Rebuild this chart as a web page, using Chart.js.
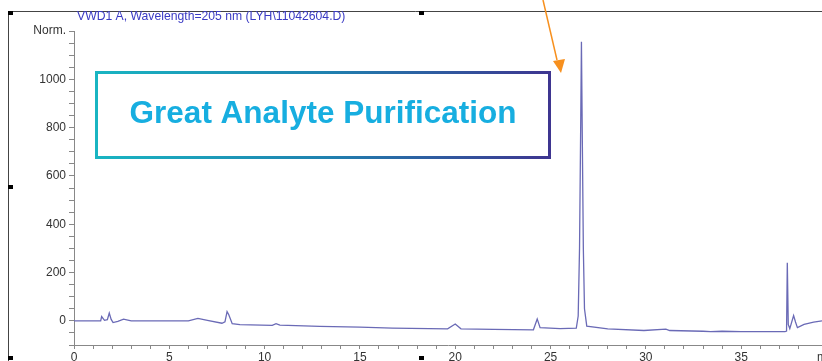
<!DOCTYPE html>
<html>
<head>
<meta charset="utf-8">
<script src="https://cdn.jsdelivr.net/npm/chart.js@4.4.1/dist/chart.umd.min.js"></script>
<style>
  html, body { margin: 0; padding: 0; background: #fff; overflow: hidden; }
  #chart { display: block; }
</style>
</head>
<body>
<canvas id="chart" width="822" height="361"></canvas>
<script>
// retention time (min) and detector signal
const times = [0, 1.4, 1.45, 1.6, 1.75, 1.85, 1.95, 2.05, 2.3, 2.6, 3.0, 6.0, 6.5, 7.0, 7.76, 7.92, 8.03, 8.12, 8.3, 8.7,
    10.4, 10.6, 10.8, 12.9, 15.0, 16.7, 19.6, 20.0, 20.3, 22.0, 24.1, 24.3, 24.45, 25.5, 26.35,
    26.45, 26.52, 26.58, 26.62, 26.66, 26.72, 26.78, 26.9, 28.0, 29.9, 31.05, 31.25, 33.0, 33.4, 34.0, 35.0,
    37.3, 37.38, 37.42, 37.47, 37.55, 37.75, 37.85, 37.95, 38.3, 38.8, 39.24];
const signal = [0, 0, 18, 2, 5, 32, 6, -7, -2, 7, 0, 0, 10, 2, -10, -4, 38, 25, -12, -16,
    -19, -12, -18, -23, -26, -30, -33, -13, -33, -35, -37, 8, -28, -32, -30,
    20, 300, 800, 1155, 800, 300, 50, -22, -33, -40, -34, -40, -43, -45, -43, -45,
    -45, -42, 240, -15, -32, 22, -5, -28, -15, -5, 0];

const xMax = 39.24;
const yTickLabels = { 0: '0', 200: '200', 400: '400', 600: '600', 800: '800', 1000: '1000', 1200: 'Norm.' };
const xTickLabels = { 0: '0', 5: '5', 10: '10', 15: '15', 20: '20', 25: '25', 30: '30', 35: '35' };

const titleText = 'VWD1 A, Wavelength=205 nm (LYH\\11042604.D)';
const calloutText = 'Great Analyte Purification';

const FONT = "'Liberation Sans', Arial, sans-serif";

const points = times.map((t, i) => ({ x: t, y: signal[i] }));

const decor = {
    id: 'decor',
    afterDraw(chart) {
        const ctx = chart.ctx;
        ctx.save();

        // page frame lines
        ctx.strokeStyle = '#444';
        ctx.lineWidth = 1;
        ctx.beginPath();
        ctx.moveTo(8.5, 361);
        ctx.lineTo(8.5, 11.5);
        ctx.lineTo(822, 11.5);
        ctx.stroke();

        // selection handles
        ctx.fillStyle = '#000';
        [[8, 11], [419, 11], [8, 185], [8, 356], [419, 356]].forEach(p => {
            ctx.fillRect(p[0], p[1], 5, 4);
        });

        // header
        ctx.fillStyle = '#3a3ac4';
        ctx.font = '12.2px ' + FONT;
        ctx.textBaseline = 'middle';
        ctx.textAlign = 'left';
        ctx.fillText(titleText, 77, 17);

        // "min" axis unit
        ctx.fillStyle = '#333';
        ctx.font = '12px ' + FONT;
        ctx.fillText('min', 817, 358);

        // callout box
        const grad = ctx.createLinearGradient(95, 0, 550, 0);
        grad.addColorStop(0, '#19b5c2');
        grad.addColorStop(0.5, '#1f82b0');
        grad.addColorStop(1, '#3e3590');
        ctx.strokeStyle = grad;
        ctx.lineWidth = 3;
        ctx.strokeRect(96.5, 72.5, 453, 85);

        ctx.fillStyle = '#17aee0';
        ctx.font = 'bold 31.5px ' + FONT;
        ctx.textAlign = 'center';
        ctx.fillText(calloutText, 323, 114);

        // arrow
        ctx.strokeStyle = '#f7901e';
        ctx.fillStyle = '#f7901e';
        ctx.lineWidth = 1.5;
        ctx.beginPath();
        ctx.moveTo(543, 0);
        ctx.lineTo(557, 60);
        ctx.stroke();
        ctx.beginPath();
        ctx.moveTo(561, 73);
        ctx.lineTo(553, 61);
        ctx.lineTo(565, 59);
        ctx.closePath();
        ctx.fill();

        ctx.restore();
    }
};

new Chart(document.getElementById('chart'), {
    type: 'line',
    data: {
        datasets: [{
            data: points,
            borderColor: '#6a6ab6',
            borderWidth: 1.3,
            pointRadius: 0,
            tension: 0,
            fill: false
        }]
    },
    options: {
        responsive: false,
        animation: false,
        devicePixelRatio: 1,
        layout: { padding: { top: 31, right: 0, left: 0, bottom: 0 } },
        plugins: { legend: { display: false }, tooltip: { enabled: false } },
        scales: {
            x: {
                type: 'linear',
                min: 0,
                max: xMax,
                afterFit: s => { s.height = 16; },
                afterBuildTicks: s => { s.ticks = s.ticks.filter(t => Number.isInteger(t.value)); },
                ticks: {
                    stepSize: 1,
                    autoSkip: false,
                    maxRotation: 0,
                    padding: 1,
                    color: '#333',
                    font: { family: FONT, size: 12 },
                    callback: v => xTickLabels[v] ?? ''
                },
                grid: { drawOnChartArea: false, tickLength: 4, color: '#888' },
                border: { color: '#888' }
            },
            y: {
                min: -100,
                max: 1200,
                afterFit: s => { s.width = 74; },
                ticks: {
                    stepSize: 50,
                    autoSkip: false,
                    padding: 3,
                    color: '#333',
                    font: { family: FONT, size: 12 },
                    callback: v => yTickLabels[v] ?? ''
                },
                grid: { drawOnChartArea: false, tickLength: 5, color: '#888' },
                border: { color: '#888' }
            }
        }
    },
    plugins: [decor]
});
</script>
</body>
</html>
